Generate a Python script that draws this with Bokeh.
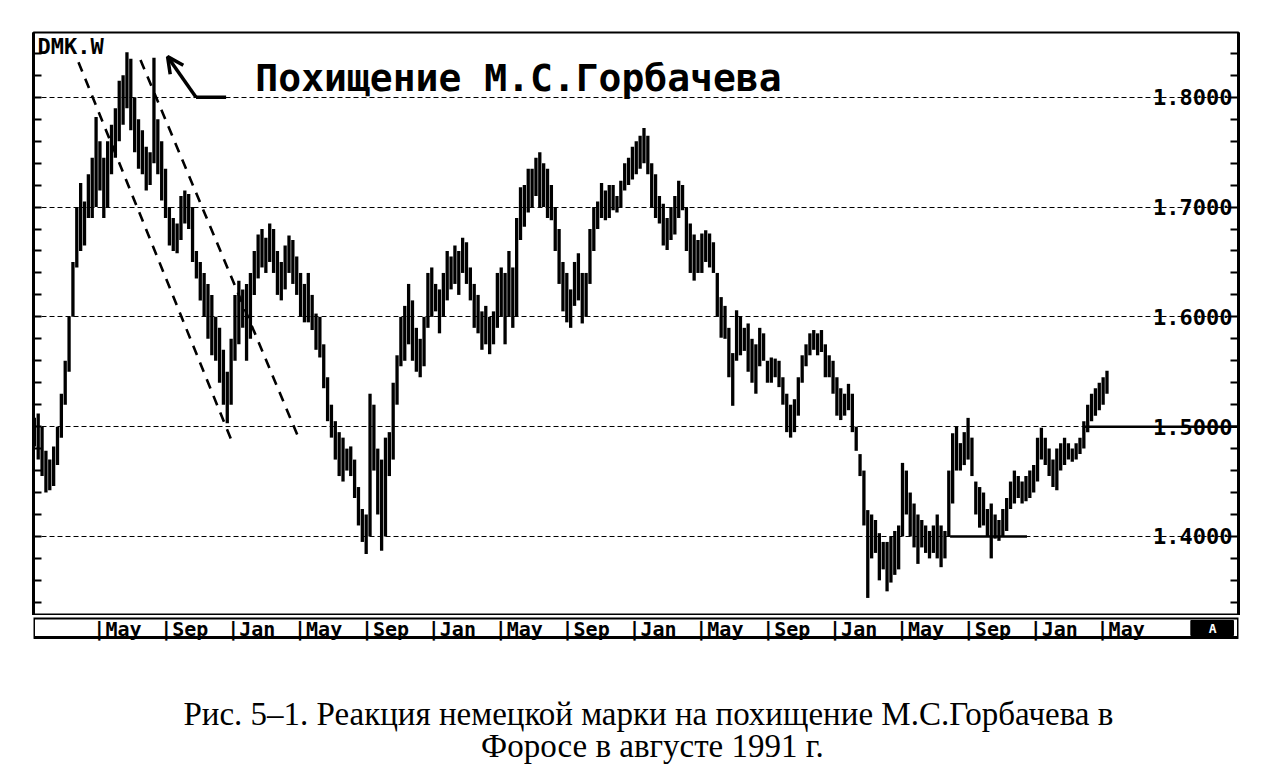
from bokeh.plotting import figure
from bokeh.models import (Range1d, LinearAxis, FixedTicker, Grid, Label,
                          Arrow, OpenHead, ColumnDataSource)
from bokeh.layouts import column
from bokeh.embed import file_html
from bokeh.resources import INLINE
from bokeh.core.properties import value

# ---------------- data: weekly DEM (USD/DEM) bars, Jan 1991 - Apr 1996 ----------------
highs = [
    1.508, 1.512, 1.500, 1.478, 1.470, 1.482, 1.500, 1.530, 1.560, 1.600,
    1.650, 1.700, 1.722, 1.705, 1.730, 1.745, 1.782, 1.760, 1.745, 1.760,
    1.775, 1.790, 1.815, 1.820, 1.841, 1.835, 1.800, 1.780, 1.770, 1.755,
    1.750, 1.836, 1.780, 1.760, 1.735, 1.700, 1.690, 1.685, 1.710, 1.715,
    1.712, 1.700, 1.660, 1.650, 1.640, 1.630, 1.620, 1.600, 1.590, 1.570,
    1.550, 1.580, 1.620, 1.633, 1.625, 1.630, 1.640, 1.660, 1.675, 1.680,
    1.672, 1.685, 1.680, 1.660, 1.650, 1.665, 1.674, 1.670, 1.655, 1.640,
    1.630, 1.640, 1.620, 1.603, 1.600, 1.575, 1.545, 1.520, 1.505, 1.495,
    1.490, 1.480, 1.482, 1.470, 1.445, 1.425, 1.420, 1.530, 1.520, 1.480,
    1.470, 1.490, 1.495, 1.540, 1.565, 1.600, 1.610, 1.630, 1.615, 1.590,
    1.580, 1.600, 1.640, 1.645, 1.630, 1.625, 1.640, 1.660, 1.655, 1.665,
    1.660, 1.672, 1.668, 1.645, 1.630, 1.620, 1.605, 1.610, 1.600, 1.605,
    1.640, 1.645, 1.640, 1.660, 1.645, 1.690, 1.718, 1.720, 1.735, 1.735,
    1.745, 1.750, 1.740, 1.735, 1.720, 1.700, 1.680, 1.650, 1.640, 1.625,
    1.650, 1.658, 1.640, 1.640, 1.680, 1.700, 1.705, 1.722, 1.715, 1.720,
    1.720, 1.710, 1.724, 1.740, 1.745, 1.755, 1.760, 1.765, 1.772, 1.765,
    1.740, 1.730, 1.710, 1.703, 1.690, 1.700, 1.710, 1.724, 1.720, 1.700,
    1.685, 1.675, 1.670, 1.676, 1.679, 1.676, 1.668, 1.640, 1.618, 1.610,
    1.590, 1.567, 1.606, 1.600, 1.590, 1.594, 1.580, 1.575, 1.590, 1.585,
    1.560, 1.563, 1.562, 1.560, 1.545, 1.530, 1.520, 1.525, 1.545, 1.565,
    1.575, 1.585, 1.588, 1.585, 1.588, 1.575, 1.565, 1.560, 1.545, 1.535,
    1.530, 1.539, 1.530, 1.500, 1.475, 1.460, 1.424, 1.420, 1.415, 1.403,
    1.395, 1.395, 1.400, 1.405, 1.410, 1.467, 1.460, 1.440, 1.430, 1.420,
    1.415, 1.410, 1.405, 1.410, 1.420, 1.410, 1.405, 1.460, 1.494, 1.500,
    1.485, 1.495, 1.508, 1.490, 1.450, 1.445, 1.440, 1.425, 1.430, 1.420,
    1.415, 1.425, 1.435, 1.450, 1.460, 1.455, 1.450, 1.455, 1.460, 1.465,
    1.490, 1.499, 1.490, 1.480, 1.470, 1.480, 1.485, 1.490, 1.485, 1.480,
    1.485, 1.490, 1.505, 1.520, 1.530, 1.535, 1.540, 1.545, 1.551,
]
lows = [
    1.482, 1.470, 1.455, 1.440, 1.442, 1.446, 1.465, 1.490, 1.520, 1.550,
    1.600, 1.645, 1.660, 1.665, 1.690, 1.690, 1.700, 1.715, 1.690, 1.700,
    1.730, 1.745, 1.760, 1.775, 1.790, 1.770, 1.750, 1.735, 1.730, 1.715,
    1.720, 1.740, 1.730, 1.706, 1.690, 1.665, 1.660, 1.658, 1.670, 1.685,
    1.680, 1.650, 1.635, 1.615, 1.600, 1.580, 1.565, 1.560, 1.540, 1.520,
    1.503, 1.520, 1.560, 1.575, 1.590, 1.560, 1.580, 1.620, 1.635, 1.645,
    1.640, 1.650, 1.640, 1.620, 1.615, 1.625, 1.640, 1.630, 1.620, 1.600,
    1.595, 1.595, 1.588, 1.570, 1.563, 1.535, 1.505, 1.490, 1.470, 1.455,
    1.450, 1.460, 1.455, 1.435, 1.410, 1.395, 1.384, 1.400, 1.460, 1.420,
    1.387, 1.400, 1.455, 1.470, 1.520, 1.555, 1.560, 1.575, 1.560, 1.550,
    1.545, 1.555, 1.590, 1.600, 1.605, 1.585, 1.600, 1.615, 1.625, 1.630,
    1.620, 1.640, 1.630, 1.615, 1.590, 1.585, 1.570, 1.575, 1.566, 1.575,
    1.590, 1.600, 1.575, 1.600, 1.590, 1.600, 1.670, 1.682, 1.695, 1.700,
    1.710, 1.700, 1.700, 1.690, 1.688, 1.660, 1.630, 1.605, 1.595, 1.590,
    1.610, 1.615, 1.594, 1.600, 1.630, 1.660, 1.680, 1.690, 1.688, 1.690,
    1.697, 1.695, 1.700, 1.715, 1.720, 1.725, 1.730, 1.735, 1.740, 1.730,
    1.700, 1.690, 1.685, 1.665, 1.661, 1.670, 1.675, 1.690, 1.697, 1.660,
    1.640, 1.633, 1.640, 1.640, 1.650, 1.645, 1.640, 1.600, 1.581, 1.580,
    1.545, 1.519, 1.560, 1.565, 1.569, 1.550, 1.540, 1.530, 1.555, 1.560,
    1.540, 1.540, 1.545, 1.536, 1.520, 1.495, 1.490, 1.495, 1.510, 1.540,
    1.555, 1.565, 1.570, 1.565, 1.568, 1.545, 1.545, 1.530, 1.510, 1.506,
    1.510, 1.515, 1.495, 1.478, 1.455, 1.410, 1.344, 1.380, 1.385, 1.360,
    1.370, 1.350, 1.358, 1.365, 1.370, 1.400, 1.420, 1.400, 1.390, 1.375,
    1.390, 1.385, 1.380, 1.385, 1.380, 1.372, 1.380, 1.400, 1.430, 1.460,
    1.460, 1.465, 1.470, 1.455, 1.420, 1.408, 1.410, 1.400, 1.380, 1.398,
    1.396, 1.400, 1.405, 1.425, 1.430, 1.435, 1.430, 1.432, 1.435, 1.440,
    1.450, 1.470, 1.465, 1.455, 1.445, 1.442, 1.460, 1.465, 1.470, 1.468,
    1.470, 1.475, 1.480, 1.495, 1.505, 1.510, 1.515, 1.520, 1.530,
]
n_weeks = min(len(highs), len(lows))
weeks = list(range(1, n_weeks + 1))            # week number since 1 Jan 1991
bar_month = [w * 12 / 52 for w in weeks]       # position in months since Jan 1991

# month-tick labels of the date strip (months since Jan 1991)
tick_months = [4, 8, 12, 16, 20, 24, 28, 32, 36, 40, 44, 48, 52, 56, 60, 64]
tick_labels = ["May", "Sep", "Jan", "May", "Sep", "Jan", "May", "Sep",
               "Jan", "May", "Sep", "Jan", "May", "Sep", "Jan", "May"]

# price levels / right-hand labels
price_levels = [1.4, 1.5, 1.6, 1.7, 1.8]
price_labels = ["1.4000", "1.5000", "1.6000", "1.7000", "1.8000"]
minor_levels = [round(1.34 + 0.02 * i, 2) for i in range(26)]

# hand-drawn annotations (months, price)
trend_a_month = [2.87, 12.02]
trend_a_price = [1.832, 1.4875]
trend_b_month = [6.58, 16.03]
trend_b_price = [1.834, 1.490]
support_month = [55.0, 59.6]
support_price = [1.4, 1.4]
resist_month = [63.0, 72.25]
resist_price = [1.5, 1.5]
arrow_tail_month = [11.7, 9.9]
arrow_tail_price = [1.8, 1.8]
arrow_tip = (8.2, 1.837)

headline = "Похищение М.С.Горбачева"
caption_lines = ["Рис. 5–1.  Реакция немецкой марки на похищение М.С.Горбачева в",
                 "Форосе в августе 1991 г."]

X0, X1 = 0.18, 72.25
Y0, Y1 = 1.328, 1.859
MONO = "DejaVu Sans Mono"
SERIF = "Liberation Serif"
W = 1256

# ---------------- main chart ----------------
p = figure(width=W, height=615, x_range=Range1d(X0, X1), y_range=Range1d(Y0, Y1),
           x_axis_location=None, y_axis_location=None, toolbar_location=None,
           output_backend="svg", min_border_left=33, min_border_right=18,
           min_border_top=32, min_border_bottom=0)
p.grid.visible = False
p.outline_line_color = "black"
p.outline_line_width = 2
p.background_fill_color = "white"
p.border_fill_color = "white"

grid = Grid(dimension=1, ticker=FixedTicker(ticks=price_levels),
            grid_line_color="black", grid_line_dash="5 3", grid_line_width=1)
p.add_layout(grid)

for side in ("left", "right"):
    ax = LinearAxis(ticker=FixedTicker(ticks=[], minor_ticks=minor_levels),
                    minor_tick_in=8, minor_tick_out=0, minor_tick_line_width=2,
                    minor_tick_line_color="black", major_tick_line_color=None,
                    axis_line_width=3)
    p.add_layout(ax, side)

src = ColumnDataSource(dict(x=bar_month, lo=lows[:n_weeks], hi=highs[:n_weeks]))
p.segment(x0="x", y0="lo", x1="x", y1="hi", source=src, line_color="black", line_width=3.3)

p.line(trend_a_month, trend_a_price, line_color="black", line_width=2.6, line_dash="10 8")
p.line(trend_b_month, trend_b_price, line_color="black", line_width=2.6, line_dash="10 8")
p.line(support_month, support_price, line_color="black", line_width=2.5)
p.line(resist_month, resist_price, line_color="black", line_width=2.5)

p.line(arrow_tail_month, arrow_tail_price, line_color="black", line_width=3.5)
p.add_layout(Arrow(end=OpenHead(size=16, line_width=3.5, line_color="black"),
                   x_start=arrow_tail_month[-1], y_start=arrow_tail_price[-1],
                   x_end=arrow_tip[0], y_end=arrow_tip[1],
                   line_color="black", line_width=3.5))

p.text(x=[X1] * len(price_levels), y=price_levels, text=price_labels,
       text_align="right", text_baseline="middle", x_offset=-6,
       text_font=value(MONO), text_font_style="bold", text_font_size="22px",
       text_color="black")

p.add_layout(Label(x=0.42, y=Y1, text="DMK.W", text_baseline="top", y_offset=-1,
                   text_font=MONO, text_font_style="bold", text_font_size="22px",
                   text_color="black"))
p.add_layout(Label(x=13.45, y=1.8173, text=headline, text_baseline="middle",
                   text_font=MONO, text_font_style="bold", text_font_size="38px",
                   text_color="black"))

# ---------------- date strip + caption (y in pixels from the bottom) ----------------
s = figure(width=W, height=160, x_range=p.x_range, y_range=Range1d(0, 158),
           x_axis_location=None, y_axis_location=None, toolbar_location=None,
           output_backend="svg", min_border_left=33, min_border_right=18,
           min_border_top=2, min_border_bottom=0)
s.grid.visible = False
s.outline_line_color = None
s.background_fill_color = "white"
s.border_fill_color = "white"

STRIP_BOTTOM, STRIP_TOP = 138, 157.5
s.quad(left=[X0], right=[X1], bottom=[STRIP_BOTTOM], top=[STRIP_TOP],
       fill_color=None, line_color="black", line_width=3)
s.text(x=tick_months, y=[147] * len(tick_months), text=["|" + t for t in tick_labels],
       text_align="left", text_baseline="middle", x_offset=-4,
       text_font=value(MONO), text_font_style="bold", text_font_size="20px",
       text_color="black")
s.quad(left=[69.4], right=[71.95], bottom=[140], top=[155], color="black")
s.text(x=[70.7], y=[147.5], text=["A"], text_align="center", text_baseline="middle",
       text_font=value(MONO), text_font_style="bold", text_font_size="13px",
       text_color="white")

caption_x = 37.2
s.text(x=[caption_x, caption_x], y=[62, 30], text=caption_lines,
       text_align="center", text_baseline="middle",
       text_font=value(SERIF), text_font_size="33px", text_color="black")

layout = column(p, s, spacing=0)
open("out.html", "w").write(file_html(layout, INLINE))
